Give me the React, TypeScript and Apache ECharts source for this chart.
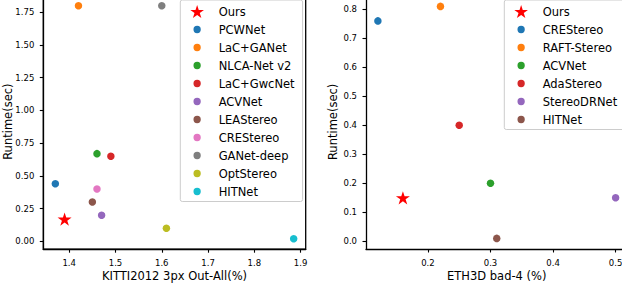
import React, { useEffect, useRef } from "react";
import * as echarts from "echarts";

// ---- KITTI 2012 (left) ----
const kittiMethods = ["Ours", "PCWNet", "LaC+GANet", "NLCA-Net v2", "LaC+GwcNet", "ACVNet", "LEAStereo", "CREStereo", "GANet-deep", "OptStereo", "HITNet"];
const kittiError = [1.39, 1.37, 1.42, 1.46, 1.49, 1.47, 1.45, 1.46, 1.6, 1.61, 1.885];
const kittiRuntime = [0.17, 0.44, 1.8, 0.67, 0.65, 0.2, 0.3, 0.4, 1.8, 0.1, 0.02];
const kittiColors = ["#ff0000", "#1f77b4", "#ff7f0e", "#2ca02c", "#d62728", "#9467bd", "#8c564b", "#e377c2", "#7f7f7f", "#bcbd22", "#17becf"];
const kittiXTicks = [1.4, 1.5, 1.6, 1.7, 1.8, 1.9];
const kittiYTicks = [0, 0.25, 0.5, 0.75, 1.0, 1.25, 1.5, 1.75];

// ---- ETH3D (right) ----
const ethMethods = ["Ours", "CREStereo", "RAFT-Stereo", "ACVNet", "AdaStereo", "StereoDRNet", "HITNet"];
const ethError = [0.16, 0.12, 0.22, 0.3, 0.25, 0.5, 0.31];
const ethRuntime = [0.15, 0.76, 0.81, 0.2, 0.4, 0.15, 0.01];
const ethColors = ["#ff0000", "#1f77b4", "#ff7f0e", "#2ca02c", "#d62728", "#9467bd", "#8c564b"];
const ethXTicks = [0.2, 0.3, 0.4, 0.5];
const ethYTicks = [0, 0.1, 0.2, 0.3, 0.4, 0.5, 0.6, 0.7, 0.8];

const STAR =
  "path://M0,-100L22.45,-30.9L95.1,-30.9L36.3,11.8L58.8,80.9L0,38.2L-58.8,80.9L-36.3,11.8L-95.1,-30.9L-22.45,-30.9Z";
const LEGEND_DOT =
  "path://M0,0M13,13M6.5,2.85A3.65,3.65,0,1,1,6.5,10.15A3.65,3.65,0,1,1,6.5,2.85Z";

const FONT = "DejaVu Sans";

function axisCommon(ticks: number[], digits: number) {
  return {
    axisLine: { show: true, onZero: false, lineStyle: { color: "#000", width: 1.3 } },
    axisTick: { show: true, length: 3.5, lineStyle: { color: "#000", width: 1.1 }, customValues: ticks },
    axisLabel: {
      show: true,
      color: "#000",
      fontSize: 8.5,
      fontFamily: FONT,
      margin: 9,
      customValues: ticks,
      formatter: (v: number) => v.toFixed(digits),
    },
    splitLine: { show: false },
    nameTextStyle: { color: "#000", fontSize: 11.5, fontFamily: FONT },
    nameLocation: "middle" as const,
    nameMoveOverlap: false,
  };
}

function buildSeries(names: string[], xs: number[], ys: number[], colors: string[], idx: number) {
  return names.map((n, i) => ({
    type: "scatter",
    name: n,
    xAxisIndex: idx,
    yAxisIndex: idx,
    symbol: i === 0 ? STAR : "circle",
    symbolSize: i === 0 ? 14 : 7.5,
    symbolKeepAspect: true,
    itemStyle: { color: colors[i], opacity: 1 },
    emphasis: { disabled: true },
    data: [[xs[i], ys[i]]],
    z: 2,
  }));
}

function buildLegend(names: string[], colors: string[], left: number) {
  return {
    orient: "vertical",
    left,
    top: 0,
    itemWidth: 33,
    itemHeight: 13,
    itemGap: 5,
    padding: [5, 8, 3.5, 10],
    borderColor: "#cccccc",
    borderWidth: 1,
    borderRadius: 2,
    backgroundColor: "rgba(255,255,255,0.8)",
    selectedMode: false,
    symbolKeepAspect: true,
    textStyle: { color: "#000", fontSize: 11.5, fontFamily: FONT, lineHeight: 13 },
    data: names.map((n, i) => ({
      name: n,
      icon: i === 0 ? STAR : LEGEND_DOT,
      itemStyle: { color: colors[i] },
    })),
  };
}

export default function App() {
  const ref = useRef<HTMLDivElement>(null);
  useEffect(() => {
    if (!ref.current) return;
    const chart = echarts.init(ref.current, null, { renderer: "svg" });
    chart.setOption({
      animation: false,
      backgroundColor: "#fff",
      textStyle: { fontFamily: FONT },
      grid: [
        { left: 43.3, top: -5.9, width: 262.4, height: 255.1, containLabel: false, outerBoundsMode: "none", show: true, borderColor: "#000", borderWidth: 1.3, backgroundColor: "transparent" },
        { left: 366, top: -5.2, width: 261.5, height: 254.2, containLabel: false, outerBoundsMode: "none", show: false },
      ],
      xAxis: [
        { ...axisCommon(kittiXTicks, 1), type: "value", gridIndex: 0, min: 1.344, max: 1.911, name: "KITTI2012 3px Out-All(%)", nameGap: 20.5 },
        { ...axisCommon(ethXTicks, 1), type: "value", gridIndex: 1, min: 0.101, max: 0.519, name: "ETH3D bad-4 (%)", nameGap: 20.5 },
      ],
      yAxis: [
        { ...axisCommon(kittiYTicks, 2), type: "value", gridIndex: 0, min: -0.06, max: 1.889, name: "Runtime(sec)", nameGap: 29 },
        { ...axisCommon(ethYTicks, 1), type: "value", gridIndex: 1, min: -0.0266, max: 0.85, name: "Runtime(sec)", nameGap: 27 },
      ],
      legend: [buildLegend(kittiMethods, kittiColors, 180.3), buildLegend(ethMethods, ethColors, 504.3)],
      series: [
        ...buildSeries(kittiMethods, kittiError, kittiRuntime, kittiColors, 0),
        ...buildSeries(ethMethods, ethError, ethRuntime, ethColors, 1),
      ],
    });
    return () => chart.dispose();
  }, []);
  return <div ref={ref} style={{ position: "absolute", left: 0, top: 0, width: 622, height: 284 }} />;
}
